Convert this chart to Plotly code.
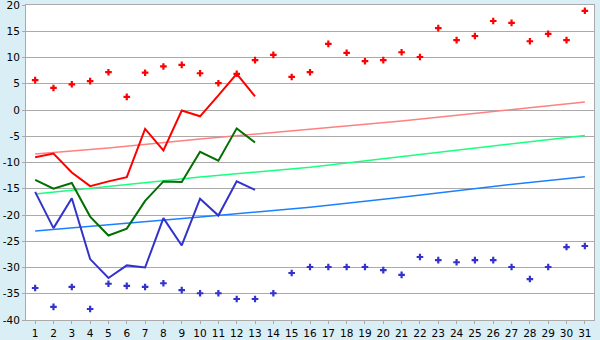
import plotly.graph_objects as go

days = list(range(1, 32))
line_days = list(range(1, 14))
y_ticks = [20, 15, 10, 5, 0, -5, -10, -15, -20, -25, -30, -35, -40]

red_points = [5.7, 4.2, 4.9, 5.5, 7.2, 2.5, 7.1, 8.3, 8.6, 7.0, 5.1, 6.9, 9.5, 10.5, 6.3, 7.2,
              12.6, 10.9, 9.3, 9.5, 11.0, 10.1, 15.6, 13.3, 14.1, 16.95, 16.6, 13.1, 14.5, 13.3, 18.9]
blue_points = [-33.9, -37.5, -33.7, -37.9, -33.1, -33.5, -33.7, -33.0, -34.3, -34.9, -34.9, -36.0,
               -36.0, -34.9, -31.05, -29.9, -29.9, -29.9, -29.9, -30.5, -31.4, -28.0, -28.6, -29.0,
               -28.6, -28.6, -29.9, -32.2, -29.9, -26.1, -25.9]

red_line = [-9.0, -8.3, -11.9, -14.5, -13.6, -12.8, -3.6, -7.7, -0.1, -1.2, 2.8, 6.9, 2.6]
green_line = [-13.3, -15.0, -13.9, -20.3, -23.9, -22.6, -17.3, -13.6, -13.7, -7.95, -9.65, -3.5, -6.2]
blue_line = [-15.6, -22.5, -16.8, -28.4, -32.0, -29.6, -30.0, -20.6, -25.8, -16.9, -20.1, -13.6, -15.2]

trend_days = [1, 5, 10, 16, 21, 26, 31]
red_trend = [-8.38, -7.24, -5.52, -3.68, -2.10, -0.30, 1.52]
green_trend = [-16.0, -14.6, -12.76, -10.9, -8.9, -6.8, -4.84]
blue_trend = [-23.05, -21.9, -20.4, -18.5, -16.6, -14.55, -12.7]

fig = go.Figure()

fig.add_trace(go.Scatter(x=trend_days, y=red_trend, mode="lines",
                         line=dict(color="#ff8080", width=1.5)))
fig.add_trace(go.Scatter(x=trend_days, y=green_trend, mode="lines",
                         line=dict(color="#19ff80", width=1.5)))
fig.add_trace(go.Scatter(x=trend_days, y=blue_trend, mode="lines",
                         line=dict(color="#1a80ff", width=1.5)))

fig.add_trace(go.Scatter(x=line_days, y=red_line, mode="lines",
                         line=dict(color="#ff0000", width=2)))
fig.add_trace(go.Scatter(x=line_days, y=green_line, mode="lines",
                         line=dict(color="#007000", width=2)))
fig.add_trace(go.Scatter(x=line_days, y=blue_line, mode="lines",
                         line=dict(color="#3333cc", width=2)))

fig.add_trace(go.Scatter(x=days, y=red_points, mode="markers",
                         marker=dict(symbol="cross", size=5.5, color="#ff0000",
                                     line=dict(width=0))))
fig.add_trace(go.Scatter(x=days, y=blue_points, mode="markers",
                         marker=dict(symbol="cross", size=5.5, color="#3333cc",
                                     line=dict(width=0))))

fig.update_layout(
    width=600, height=340,
    margin=dict(l=26, r=6, t=5, b=20),
    paper_bgcolor="#daeef5",
    plot_bgcolor="#ffffff",
    showlegend=False,
    font=dict(family="DejaVu Sans", size=11, color="#000000"),
)
fig.update_xaxes(range=[0.5, 31.5], tickvals=days, ticktext=[str(d) for d in days],
                 showgrid=False, zeroline=False, showline=True, linecolor="#aaaaaa",
                 linewidth=1, mirror=True, ticks="outside", ticklen=3, tickcolor="#aaaaaa",
                 tickfont=dict(size=10.5),
                 ticklabeloverflow="allow", automargin=False)
fig.update_yaxes(range=[-40, 20], tickvals=y_ticks, ticktext=[str(v) for v in y_ticks],
                 showgrid=True, gridcolor="#aaaaaa",
                 gridwidth=1, zeroline=False, showline=True, linecolor="#aaaaaa",
                 linewidth=1, mirror=True, ticks="outside", ticklen=3, tickcolor="#aaaaaa",
                 tickfont=dict(size=10.5),
                 ticklabeloverflow="allow", automargin=False)

fig.write_html("out.html")
